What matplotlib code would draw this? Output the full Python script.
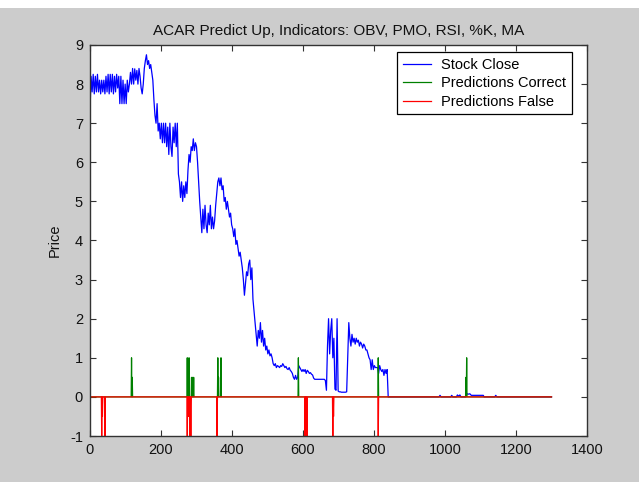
import numpy as np
import matplotlib
matplotlib.use('Agg')
import matplotlib.pyplot as plt
from matplotlib.patches import Rectangle

# ======================
# DONNEES
# ======================

# cours de cloture, un point tous les 3 jours (jours 0 a 837)
close_step = 3
close_main = [
    7.3, 8.2, 7.8, 8.25, 7.75, 8.2, 7.8, 8.25, 7.8, 8.1,
    7.75, 8.1, 7.8, 8.1, 7.75, 8.2, 7.8, 8.25, 7.75, 8.25,
    7.8, 8.25, 7.75, 8.2, 7.8, 8.25, 7.9, 8.2, 7.5, 8.2,
    7.5, 8.1, 7.5, 8.0, 7.5, 8.1, 7.8, 8.0, 8.3, 8.0,
    8.4, 8.0, 8.39, 8.1, 8.35, 8.0, 8.4, 8.2, 7.9, 7.75,
    8.0, 8.4, 8.6, 8.75, 8.5, 8.6, 8.4, 8.5, 8.3, 8.1,
    7.6, 7.2, 7.0, 7.5, 6.8, 7.0, 6.6, 7.0, 6.5, 7.0,
    6.5, 7.0, 6.4, 6.9, 6.2, 7.0, 6.4, 6.15, 6.9, 6.5,
    7.0, 6.4, 7.0, 5.7, 5.5, 5.1, 5.5, 5.0, 5.4, 5.1,
    5.5, 5.2, 5.8, 6.2, 6.0, 6.4, 6.3, 6.6, 6.3, 6.5,
    6.4, 6.0, 5.5, 5.0, 4.6, 4.2, 4.8, 4.3, 4.9, 4.4,
    4.2, 4.7, 4.4, 4.9, 4.3, 4.6, 4.3, 4.5, 4.9, 5.2,
    5.5, 5.6, 5.4, 5.6, 5.3, 5.4, 5.0, 5.1, 4.8, 5.0,
    4.8, 4.6, 4.7, 4.4, 4.3, 4.1, 4.3, 3.9, 4.0, 3.8,
    3.6, 3.7, 3.5, 3.3, 3.0, 2.6, 2.9, 3.2, 3.1, 3.4,
    3.5, 3.0, 3.3, 2.5, 2.2, 1.9, 1.6, 1.3, 1.7, 1.5,
    1.9, 1.4, 1.7, 1.3, 1.5, 1.2, 1.3, 1.1, 1.2, 1.05,
    1.1, 1.0, 0.85, 0.8, 0.85, 0.75, 0.8, 0.78, 0.75, 0.8,
    0.78, 0.85, 0.8, 0.75, 0.78, 0.72, 0.7, 0.75, 0.68, 0.65,
    0.6, 0.5, 0.45, 0.55, 0.45, 0.5, 0.8, 0.75, 0.7, 0.65,
    0.7, 0.65, 0.7, 0.6, 0.68, 0.65, 0.6, 0.62, 0.58, 0.56,
    0.48, 0.45, 0.45, 0.45, 0.45, 0.45, 0.45, 0.45, 0.45, 0.45,
    0.45, 0.42, 0.17, 1.3, 2.0, 1.1, 1.7, 2.0, 1.0, 1.5,
    0.2, 0.17, 2.0, 0.15, 0.13, 0.13, 0.12, 0.12, 0.12, 0.12,
    0.12, 0.13, 1.0, 1.9, 1.5, 1.3, 1.6, 1.4, 1.5, 1.35,
    1.5, 1.4, 1.45, 1.3, 1.4, 1.35, 1.25, 1.35, 1.3, 1.2,
    1.2, 1.1, 1.0, 0.95, 0.7, 0.95, 0.7, 0.8, 0.75, 0.75,
    0.75, 0.6, 0.8, 0.7, 0.65, 0.7, 0.55, 0.7, 0.6, 0.7,
]

# fin de serie (presque nulle)
tail_days = [840, 983, 986, 989, 1016, 1019, 1022, 1032, 1035, 1038, 1042, 1045,
             1058, 1062, 1066, 1070, 1074, 1108, 1110, 1140, 1143, 1146, 1300]
tail_vals = [0, 0, 0.04, 0, 0, 0.04, 0, 0, 0.05, 0.02, 0.05, 0,
             0, 0.08, 0.07, 0.08, 0.04, 0.04, 0, 0, 0.04, 0, 0]

n_days = 1301
correct_days = [117, 119, 274, 279, 286, 289, 292, 360, 362, 369, 587, 812, 1059, 1061]
correct_vals = [1, 0.5, 1, 1, 0.5, 0.5, 0.5, 1, 0.5, 1, 1, 1, 0.5, 1]
false_days = [33, 35, 42, 274, 276, 279, 282, 284, 358, 606, 608, 611, 684, 686, 812]
false_vals = [-1, -0.5, -1, -1, -0.5, -0.5, -1, -1, -1, -1, -0.5, -1, -1, -0.5, -1]

title = 'ACAR Predict Up, Indicators: OBV, PMO, RSI, %K, MA'
xticks = [0, 200, 400, 600, 800, 1000, 1200, 1400]
yticks = list(range(-1, 10))

# ======================
# CONSTRUCTION DES SERIES
# ======================

close_x = list(np.arange(len(close_main)) * close_step) + tail_days
close_y = close_main + tail_vals

days = np.arange(n_days)
correct = np.zeros(n_days)
correct[correct_days] = correct_vals
false = np.zeros(n_days)
false[false_days] = false_vals

# ======================
# GRAPHIQUE
# ======================

plt.rcParams['font.family'] = ['Liberation Sans', 'DejaVu Sans']
plt.rcParams['axes.unicode_minus'] = False
fs = 10.5
grey = '#cccccc'
edge = '#333333'

fig = plt.figure(figsize=(6.39, 4.82), dpi=100, facecolor=grey)
fig.patches.append(Rectangle((0, 1 - 8 / 482), 1, 8 / 482, transform=fig.transFigure,
                             facecolor='white', edgecolor='none', zorder=0))
ax = fig.add_axes([90 / 639, 1 - 436 / 482, 497 / 639, 391 / 482])

ax.plot(close_x, close_y, color=(0, 0, 1), lw=0.9, label='Stock Close')
ax.plot(days, correct, color=(0, 0.5, 0), lw=0.9, label='Predictions Correct')
ax.plot(days, false, color=(1, 0, 0), lw=0.9, label='Predictions False')

ax.set_xlim(0, 1400)
ax.set_ylim(-1, 9)
ax.set_xticks(xticks)
ax.set_yticks(yticks)
ax.tick_params(direction='in', length=4, width=0.8, color=edge, labelcolor='#111111',
               labelsize=fs, top=True, right=True, pad=5)
for s in ax.spines.values():
    s.set_color(edge)
    s.set_linewidth(1.0)

ax.set_title(title, fontsize=11, color='#111111', pad=7)
ax.set_ylabel('Price', fontsize=fs, color='#111111', labelpad=6)

leg = ax.legend(loc='upper left', bbox_to_anchor=(0.618, 0.982), fontsize=fs,
                fancybox=False, framealpha=1, edgecolor='black', handlelength=1.9,
                handletextpad=0.7, labelspacing=0.3, borderpad=0.4, borderaxespad=0)
leg.get_frame().set_linewidth(0.9)

fig.savefig('out.png', dpi=100, facecolor=grey)
